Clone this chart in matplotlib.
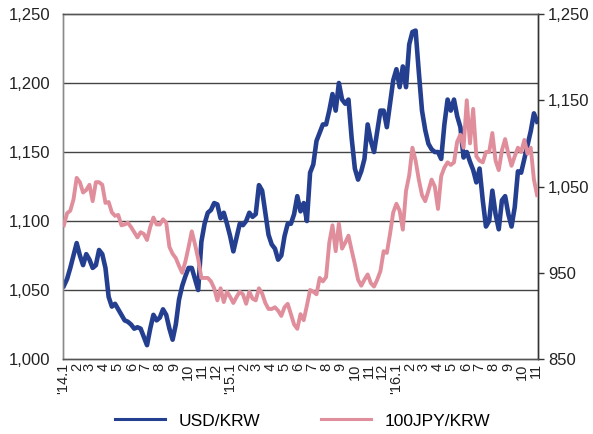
import numpy as np
import pandas as pd
import matplotlib
matplotlib.use('Agg')
import matplotlib.pyplot as plt
import matplotlib.dates as mdates
from matplotlib.ticker import StrMethodFormatter

plt.rcParams['font.family'] = ['Liberation Sans', 'DejaVu Sans']

# weekly (Friday) observations, Jan 2014 - Nov 2016
dates = pd.date_range('2014-01-03', periods=149, freq='W-FRI')

usd_krw = [1053, 1058, 1066, 1075, 1084, 1075, 1068, 1076, 1072, 1066,
           1068, 1079, 1076, 1066, 1045, 1038, 1040, 1036, 1032, 1028,
           1027, 1025, 1022, 1023, 1022, 1016, 1010, 1022, 1032, 1028,
           1030, 1036, 1032, 1022, 1014, 1025, 1043, 1053, 1060, 1066,
           1066, 1058, 1050, 1085, 1098, 1106, 1108, 1113, 1112, 1102,
           1106, 1098, 1089, 1078, 1088, 1098, 1097, 1100, 1106, 1103,
           1105, 1126, 1122, 1106, 1090, 1083, 1080, 1072, 1075, 1089,
           1098, 1098, 1105, 1118, 1107, 1113, 1100, 1135, 1141, 1158,
           1164, 1170, 1170, 1180, 1192, 1180, 1200, 1188, 1185, 1188,
           1160, 1138, 1130, 1136, 1145, 1170, 1158, 1150, 1165, 1180,
           1180, 1168, 1185, 1202, 1210, 1197, 1212, 1197, 1228, 1237,
           1238, 1208, 1180, 1166, 1156, 1152, 1150, 1150, 1145, 1170,
           1188, 1180, 1188, 1176, 1168, 1146, 1150, 1143, 1137, 1128,
           1138, 1115, 1096, 1100, 1122, 1105, 1094, 1115, 1118, 1105,
           1096, 1110, 1136, 1135, 1145, 1155, 1165, 1178, 1172]

jpy_krw = [1005, 1019, 1022, 1035, 1060, 1055, 1043, 1046, 1052, 1033,
           1055, 1055, 1052, 1031, 1032, 1020, 1016, 1017, 1005, 1006,
           1008, 1003, 997, 991, 997, 995, 988, 1003, 1014, 1006,
           1006, 1012, 1008, 980, 972, 967, 958, 950, 963, 980,
           998, 983, 966, 944, 944, 944, 940, 932, 918, 932,
           916, 928, 922, 915, 922, 928, 925, 914, 928, 920,
           918, 932, 926, 915, 908, 908, 910, 906, 900, 910,
           914, 902, 890, 885, 902, 895, 912, 930, 928, 925,
           944, 940, 945, 985, 1005, 975, 1007, 978, 985, 993,
           976, 960, 942, 935, 942, 948, 938, 934, 942, 952,
           975, 973, 995, 1020, 1030, 1022, 1000, 1045, 1063, 1095,
           1080, 1058, 1040, 1033, 1045, 1058, 1050, 1024, 1062, 1072,
           1078, 1075, 1078, 1102, 1110, 1095, 1150, 1100, 1140, 1085,
           1080, 1078, 1090, 1090, 1112, 1080, 1069, 1092, 1105, 1088,
           1074, 1085, 1095, 1090, 1104, 1088, 1095, 1058, 1040]

blue = '#243f8f'
pink = '#e08e9b'

fig = plt.figure(figsize=(5.93, 4.34), dpi=100)
ax = fig.add_axes([0.1062, 0.1728, 0.8011, 0.7949])
ax2 = ax.twinx()

l1, = ax.plot(dates, usd_krw, color=blue, lw=3.3, solid_joinstyle='round', zorder=3)
l2, = ax2.plot(dates, jpy_krw, color=pink, lw=2.8, solid_joinstyle='round', zorder=3)

ax.set_ylim(1000, 1250)
ax.set_yticks([1000, 1050, 1100, 1150, 1200, 1250])
ax2.set_ylim(850, 1250)
ax2.set_yticks([850, 950, 1050, 1150, 1250])
ax.yaxis.set_major_formatter(StrMethodFormatter('{x:,.0f}'))
ax2.yaxis.set_major_formatter(StrMethodFormatter('{x:,.0f}'))

for y in [1050, 1100, 1150, 1200]:
    ax.axhline(y, color='#444444', lw=1.0, zorder=1)

ax.set_xlim(pd.Timestamp('2014-01-01'), pd.Timestamp('2016-11-06'))
months = pd.date_range('2014-01-01', '2016-11-01', freq='MS')
labels = []
for d in months:
    if d.month == 1:
        labels.append("'%d.1" % (d.year % 100))
    else:
        labels.append(str(d.month))
ax.set_xticks(months)
ax.set_xticklabels(labels, rotation=90, fontsize=10.5, color='#222222')

ax.tick_params(axis='x', length=0, pad=3)
ax.tick_params(axis='y', length=0, pad=9, labelsize=12, labelcolor='#222222')
ax2.tick_params(axis='y', length=4, width=1, color='#333333', direction='out',
                pad=3, labelsize=12, labelcolor='#222222')

for a in (ax, ax2):
    a.spines['left'].set_color('#8a8a8a')
    a.spines['bottom'].set_color('#555555')
    a.spines['top'].set_color('#555555')
    a.spines['right'].set_color('#333333')
    for s in a.spines.values():
        s.set_linewidth(1.0)

leg = fig.legend([l1, l2], ['USD/KRW', '100JPY/KRW'], loc='center',
                 bbox_to_anchor=(0.51, 0.03), ncol=2, frameon=False,
                 fontsize=12.5, handlelength=2.9, handletextpad=0.75,
                 columnspacing=3.5)
for h in leg.get_lines():
    h.set_linewidth(2.2)

fig.savefig('out.png', dpi=100)
